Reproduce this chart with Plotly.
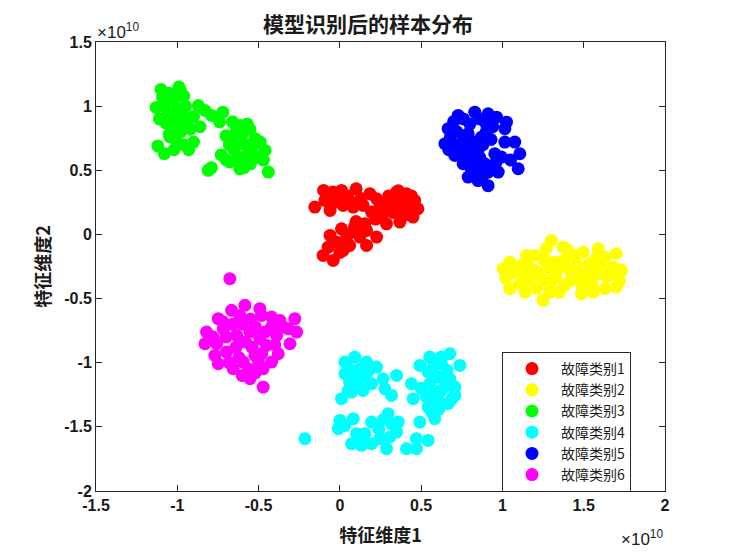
import plotly.graph_objects as go

# values in units of 1e10
class1_x = [-0.10,-0.154,-0.043,0.01,0.10,0.185,0.226,-0.092,-0.06,0.02,0.082,0.143,0.287,0.349,0.41,0.46,0.48,0.45,0.369,0.287,0.266,0.369,0.195,0.154,0.01,-0.06,0.082,0.164,0.226,0.164,0.06,-0.02,-0.072,-0.103,-0.041,0.02,0.123,
            -0.02,0.05,0.13,0.06,-0.05,0.32,0.38,0.43,0.33,0.40,0.31,0.24,0.22,0.10,0.04,0.00,0.09,0.36,0.44,0.30]
class1_y = [0.343,0.213,0.33,0.343,0.356,0.317,0.278,0.265,0.187,0.226,0.213,0.226,0.252,0.33,0.317,0.265,0.20,0.135,0.096,0.083,0.161,0.20,0.174,0.083,0.044,-0.008,0.018,0.031,-0.021,-0.086,-0.086,-0.06,-0.099,-0.164,-0.203,-0.125,-0.021,
            0.29,0.30,0.28,0.26,0.24,0.28,0.26,0.22,0.17,0.15,0.22,0.20,0.12,0.10,-0.03,-0.14,0.06,0.34,0.30,0.30]

class2_x = [1.30,1.27,1.373,1.148,1.2,1.045,1.004,1.117,1.25,1.322,1.445,1.496,1.589,1.63,1.70,1.68,1.733,1.70,1.63,1.558,1.486,1.384,1.29,1.25,1.045,1.107,1.17,1.23,1.33,1.414,1.537,1.578,1.64,1.476,1.353,1.127,
            1.06,1.02,1.08,1.16,1.20,1.28,1.30,1.38,1.42,1.46,1.52,1.55,1.60,1.66,1.35,1.21,1.14,1.26,1.49,1.58,1.40,1.72]
class2_y = [-0.047,-0.111,-0.099,-0.164,-0.164,-0.216,-0.267,-0.242,-0.19,-0.216,-0.164,-0.138,-0.111,-0.177,-0.15,-0.255,-0.28,-0.41,-0.423,-0.45,-0.462,-0.397,-0.45,-0.514,-0.423,-0.384,-0.358,-0.306,-0.332,-0.28,-0.228,-0.306,-0.332,-0.332,-0.255,-0.306,
            -0.30,-0.34,-0.26,-0.25,-0.28,-0.26,-0.37,-0.20,-0.36,-0.24,-0.30,-0.38,-0.24,-0.30,-0.45,-0.42,-0.45,-0.36,-0.40,-0.18,-0.12,-0.36]

class3_x = [-1.10,-0.99,-1.05,-1.02,-0.96,-1.08,-1.13,-1.06,-1.00,-0.95,-1.03,-0.97,-1.11,-1.07,-1.00,-0.94,-1.04,-0.98,-0.92,-1.05,-1.01,-1.045,-0.96,-0.90,-1.12,-1.08,-1.02,-0.93,-0.98,-1.09,
            -0.87,-0.83,-0.79,-0.72,-0.74,-0.86,-0.90,-0.81,-0.79,
            -0.66,-0.615,-0.553,-0.52,-0.46,-0.44,-0.615,-0.677,-0.574,-0.635,-0.70,-0.73,-0.60,-0.58,-0.54,-0.50,-0.55,-0.65,-0.68,-0.62,-0.57,-0.64,-0.49,-0.47,-0.59,-0.70]
class3_y = [1.13,1.15,1.10,1.05,1.08,1.02,0.99,0.96,0.98,1.00,0.92,0.93,0.90,0.87,0.87,0.88,0.84,0.80,0.82,0.78,0.74,0.76,0.70,0.72,0.69,0.63,0.66,0.66,1.12,1.07,
            1.005,0.966,0.927,0.953,0.877,0.84,0.92,0.50,0.52,
            0.877,0.85,0.82,0.746,0.655,0.486,0.51,0.565,0.616,0.72,0.77,0.62,0.78,0.70,0.66,0.60,0.55,0.66,0.70,0.60,0.86,0.80,0.72,0.58,0.52,0.58]

class4_x = [-0.215,0.031,0.092,0.164,0.226,0.031,0.092,0.154,0.01,0.072,0.143,0.195,0.266,0.277,0.318,0.349,0.0,-0.01,0.082,0.195,0.103,0.154,0.072,0.133,0.195,0.246,0.287,0.308,0.297,0.318,0.359,0.349,0.41,0.471,0.471,0.543,0.492,0.44,0.451,0.492,0.553,0.625,0.677,0.738,0.543,0.605,0.677,0.707,0.707,0.666,0.625,0.553,0.533,0.543,0.564,0.584,0.625,0.625,
            0.05,0.12,0.18,0.06,0.11,0.05,0.03,0.13,0.24,0.27,0.58,0.66,0.58,0.65,0.69,0.60,0.57,0.50,0.61]
class4_y = [-1.592,-0.995,-0.956,-0.995,-1.034,-1.086,-1.086,-1.112,-1.28,-1.229,-1.216,-1.164,-1.125,-1.203,-1.255,-1.099,-1.45,-1.514,-1.436,-1.463,-1.553,-1.553,-1.631,-1.644,-1.631,-1.592,-1.67,-1.579,-1.397,-1.475,-1.463,-1.541,-1.67,-1.67,-1.592,-1.606,-1.463,-1.164,-1.28,-1.021,-0.956,-0.956,-0.93,-1.021,-1.073,-1.112,-1.125,-1.19,-1.255,-1.32,-1.32,-1.164,-1.268,-1.346,-1.385,-1.436,-1.216,-1.008,
            -1.04,-1.05,-1.06,-1.15,-1.17,-1.22,-1.49,-1.58,-1.52,-1.44,-1.02,-1.06,-1.22,-1.18,-1.28,-1.29,-1.08,-1.20,-1.36]

class5_x = [0.728,0.83,0.912,0.964,1.025,1.015,0.666,0.646,0.707,0.758,0.789,0.85,0.912,0.974,0.994,1.097,1.107,1.076,1.015,0.892,0.912,0.85,0.83,0.953,0.789,0.871,0.748,0.85,
            0.70,0.76,0.80,0.86,0.90,0.94,0.68,0.72,0.76,0.82,0.88,0.70,0.78,0.74,0.80,0.90,0.93,0.67,0.96,1.05,0.88,0.81,0.86]
class5_y = [0.928,0.953,0.94,0.914,0.875,0.824,0.824,0.707,0.616,0.551,0.447,0.42,0.38,0.486,0.603,0.512,0.629,0.72,0.72,0.551,0.486,0.499,0.577,0.629,0.785,0.758,0.707,0.655,
            0.88,0.90,0.86,0.90,0.86,0.84,0.76,0.80,0.76,0.72,0.70,0.70,0.66,0.62,0.62,0.80,0.74,0.66,0.56,0.58,0.46,0.50,0.60]

class6_x = [-0.677,-0.666,-0.584,-0.492,-0.482,-0.42,-0.369,-0.277,-0.266,-0.318,-0.307,-0.379,-0.42,-0.472,-0.472,-0.553,-0.656,-0.748,-0.769,-0.83,-0.82,-0.748,-0.717,-0.615,-0.635,-0.553,-0.45,-0.523,-0.594,-0.697,-0.42,-0.492,-0.758,-0.389,
            -0.70,-0.66,-0.60,-0.55,-0.52,-0.46,-0.58,-0.64,-0.54,-0.48,-0.62,-0.56,-0.50,-0.40,-0.35,-0.72,-0.78,-0.68,-0.60,-0.52]
class6_y = [-0.345,-0.592,-0.553,-0.579,-0.631,-0.644,-0.67,-0.657,-0.761,-0.735,-0.852,-0.93,-0.995,-1.047,-1.19,-1.125,-1.047,-1.008,-0.943,-0.852,-0.761,-0.657,-0.735,-0.631,-0.787,-0.761,-0.865,-0.943,-0.995,-0.917,-0.722,-0.813,-0.852,-0.787,
            -0.80,-0.70,-0.70,-0.66,-0.72,-0.76,-0.84,-0.88,-0.88,-0.93,-0.96,-1.05,-1.00,-0.86,-0.72,-0.68,-0.80,-1.00,-1.10,-1.08]

names = ["故障类别1", "故障类别2", "故障类别3", "故障类别4", "故障类别5", "故障类别6"]
colors = ["#FF0000", "#FFFF00", "#00FF00", "#00FFFF", "#0000FF", "#FF00FF"]
xs = [class1_x, class2_x, class3_x, class4_x, class5_x, class6_x]
ys = [class1_y, class2_y, class3_y, class4_y, class5_y, class6_y]

tick_vals_x = [-1.5, -1, -0.5, 0, 0.5, 1, 1.5, 2]
tick_text_x = ["-1.5", "-1", "-0.5", "0", "0.5", "1", "1.5", "2"]
tick_vals_y = [-2, -1.5, -1, -0.5, 0, 0.5, 1, 1.5]
tick_text_y = ["-2", "-1.5", "-1", "-0.5", "0", "0.5", "1", "1.5"]

fig = go.Figure()
for i in range(6):
    fig.add_trace(go.Scatter(x=xs[i], y=ys[i], mode="markers", name=names[i],
                             marker=dict(color=colors[i], size=13, line=dict(width=0))))

axis_common = dict(showgrid=False, zeroline=False, showline=True, linecolor="#262626", linewidth=1,
                   mirror="ticks", ticks="inside", ticklen=6, tickcolor="#262626", automargin=False,
                   tickfont=dict(family="Liberation Sans", size=16, color="#1a1a1a", weight="bold"))

fig.update_layout(
    width=736, height=552,
    margin=dict(l=96, r=71, t=42, b=61, autoexpand=False),
    plot_bgcolor="white", paper_bgcolor="white",
    title=dict(text="模型识别后的样本分布", x=368 / 736, xanchor="center", y=1 - 25 / 552, yanchor="middle",
               font=dict(family="Noto Sans CJK SC", size=21, color="#1a1a1a", weight="bold")),
    xaxis=dict(range=[-1.5, 2], tickvals=tick_vals_x, ticktext=tick_text_x,
               title=dict(text="特征维度1", standoff=16,
                          font=dict(family="Noto Sans CJK SC", size=18, color="#1a1a1a", weight="bold")),
               **axis_common),
    yaxis=dict(range=[-2, 1.5], tickvals=tick_vals_y, ticktext=tick_text_y,
               title=dict(text="特征维度2", standoff=8,
                          font=dict(family="Noto Sans CJK SC", size=18, color="#1a1a1a", weight="bold")),
               **axis_common),
    legend=dict(x=(502 - 96) / 569, y=(491 - 352) / 449, xanchor="left", yanchor="top",
                bgcolor="white", bordercolor="#262626", borderwidth=1,
                font=dict(family="Noto Sans CJK SC", size=14, color="#1a1a1a"),
                itemwidth=48, tracegroupgap=0),
    showlegend=True,
)

fig.add_annotation(text="×10<sup>10</sup>", xref="paper", yref="paper", x=0, y=1,
                   xanchor="left", yanchor="bottom", showarrow=False, xshift=-1, yshift=-2,
                   font=dict(family="Liberation Sans", size=17, color="#1a1a1a"))
fig.add_annotation(text="×10<sup>10</sup>", xref="paper", yref="paper", x=1, y=0,
                   xanchor="right", yanchor="top", showarrow=False, yshift=-34,
                   font=dict(family="Liberation Sans", size=17, color="#1a1a1a"))

fig.write_html("out.html", config={"displayModeBar": False},
               post_script="document.body.style.margin='0px';")
